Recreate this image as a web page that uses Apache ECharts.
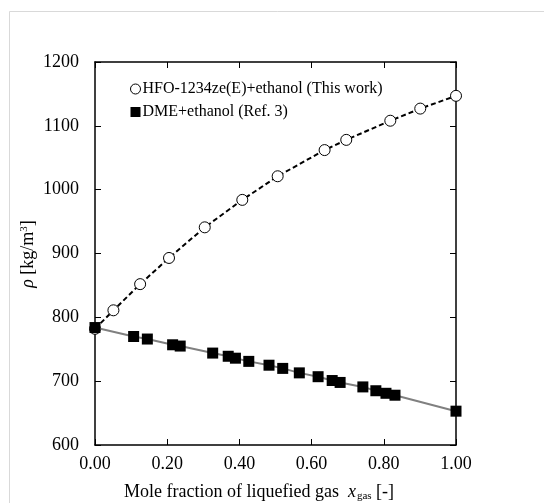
<!DOCTYPE html>
<html>
<head>
<meta charset="utf-8">
<script src="https://cdn.jsdelivr.net/npm/echarts@6/dist/echarts.min.js"></script>
<style>
  html, body { margin: 0; padding: 0; background: #fff; }
  #chart { width: 544px; height: 503px; }
</style>
</head>
<body>
<div id="chart"></div>
<script>
// HFO-1234ze(E)+ethanol (this work)
const hfoX = [0.00, 0.051, 0.125, 0.205, 0.304, 0.408, 0.506, 0.636, 0.696, 0.818, 0.901, 1.00];
const hfoRho = [782, 811, 852, 893, 941, 984, 1021, 1062, 1078, 1108, 1127, 1147];
// DME+ethanol (Ref. 3)
const dmeX = [0.00, 0.107, 0.145, 0.215, 0.236, 0.326, 0.369, 0.389, 0.426, 0.482, 0.520, 0.566, 0.618, 0.657, 0.679, 0.742, 0.778, 0.806, 0.831, 1.00];
const dmeRho = [784, 770, 766, 757, 755, 744, 739, 736, 731, 725, 720, 713, 707, 701, 698, 691, 685, 681, 678, 653];

const xTicks = [0, 1, 0.2];       // min, max, interval
const yTicks = [600, 1200, 100];

const font = '"Liberation Serif", "Times New Roman", serif';

let myChart = echarts.init(document.getElementById('chart'));

const zip = (xs, ys) => xs.map((x, i) => [x, ys[i]]);

const tickIn = { show: true, inside: true, length: 6, lineStyle: { color: '#000', width: 1 } };
const axisLine = { show: true, onZero: false, lineStyle: { color: '#000', width: 1.5 } };

myChart.setOption({
  animation: false,
  backgroundColor: '#fff',
  grid: { left: 95, right: 88, top: 62, bottom: 58 },
  legend: {
    orient: 'vertical',
    left: 125,
    top: 74,
    itemWidth: 10,
    itemHeight: 10,
    itemGap: 3,
    textStyle: { fontFamily: font, fontSize: 16, color: '#000', lineHeight: 20, padding: [0, 0, 0, -3] },
    data: [
      { name: 'HFO-1234ze(E)+ethanol (This work)', icon: 'circle',
        itemStyle: { color: '#fff', borderColor: '#000', borderWidth: 1 } },
      { name: 'DME+ethanol (Ref. 3)', icon: 'rect',
        itemStyle: { color: '#000', borderWidth: 0 } }
    ]
  },
  xAxis: [{
    type: 'value', position: 'bottom',
    min: xTicks[0], max: xTicks[1], interval: xTicks[2],
    axisLine: axisLine, axisTick: tickIn, splitLine: { show: false },
    axisLabel: { fontFamily: font, fontSize: 18, color: '#000', margin: 10,
      formatter: v => v.toFixed(2) }
  }, {
    type: 'value', position: 'top',
    min: xTicks[0], max: xTicks[1], interval: xTicks[2],
    axisLine: axisLine, axisTick: tickIn, splitLine: { show: false },
    axisLabel: { show: false }
  }],
  yAxis: [{
    type: 'value', position: 'left',
    min: yTicks[0], max: yTicks[1], interval: yTicks[2],
    axisLine: axisLine, axisTick: tickIn, splitLine: { show: false },
    axisLabel: { fontFamily: font, fontSize: 18, color: '#000', margin: 16,
      formatter: v => String(v) }
  }, {
    type: 'value', position: 'right',
    min: yTicks[0], max: yTicks[1], interval: yTicks[2],
    axisLine: axisLine, axisTick: tickIn, splitLine: { show: false },
    axisLabel: { show: false }
  }],
  graphic: [
    {
      type: 'rect', silent: true, z: -1,
      shape: { x: 9.5, y: 11.5, width: 700, height: 700 },
      style: { fill: 'none', stroke: '#d9d9d9', lineWidth: 1 }
    },
    {
      type: 'text', x: 0, y: 0,
      style: {
        x: 259, y: 492, align: 'center', verticalAlign: 'middle',
        text: 'Mole fraction of liquefied gas  {i|x}{sub|gas} [-]',
        fontFamily: font, fontSize: 18, fill: '#000',
        rich: {
          i: { fontFamily: font, fontSize: 18, fontStyle: 'italic', fill: '#000' },
          sub: { fontFamily: font, fontSize: 11, fill: '#000', padding: [9, 0, 0, 1] }
        }
      }
    },
    {
      type: 'text', x: 28, y: 254, rotation: Math.PI / 2,
      style: {
        x: 0, y: 0, align: 'center', verticalAlign: 'middle',
        text: '{i|ρ} [kg/m{sup|3}]',
        fontFamily: font, fontSize: 18, fill: '#000',
        rich: {
          i: { fontFamily: font, fontSize: 18, fontStyle: 'italic', fill: '#000' },
          sup: { fontFamily: font, fontSize: 11, fill: '#000', padding: [0, 0, 8, 0] }
        }
      }
    }
  ],
  series: [{
    name: 'HFO-1234ze(E)+ethanol (This work)',
    type: 'line',
    data: zip(hfoX, hfoRho),
    symbol: 'circle',
    symbolSize: 11,
    itemStyle: { color: '#fff', borderColor: '#000', borderWidth: 1 },
    lineStyle: { color: '#000', width: 2, type: [5, 3] },
    z: 2
  }, {
    name: 'DME+ethanol (Ref. 3)',
    type: 'line',
    data: zip(dmeX, dmeRho),
    symbol: 'rect',
    symbolSize: 11,
    itemStyle: { color: '#000', borderWidth: 0 },
    lineStyle: { color: '#808080', width: 2 },
    z: 3
  }]
});

window.addEventListener('resize', function () {
  myChart.resize();
});
</script>
</body>
</html>
